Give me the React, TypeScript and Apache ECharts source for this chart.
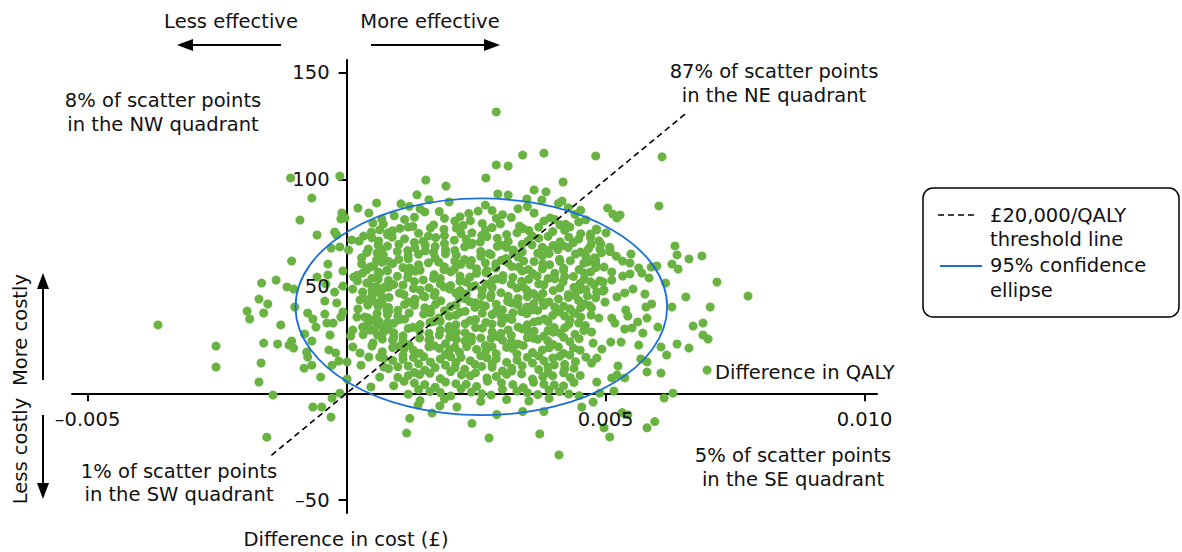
import React, { useEffect, useRef } from "react";
import * as echarts from "echarts";

// Difference in QALY (x) and difference in cost £ (y) for bootstrap replicates
const leftPoints: number[][] = [
  [-0.00108,100.8],[-0.00013,101.7],[-0.00067,91.4],[-0.0009,81.1],[-0.00009,84.4],[0.00022,86.7],[0.00058,89.1],[0.00043,84.4],
  [-0.00057,74.1],[-0.00023,75.5],[-0.00011,81.6],[-0.00003,82.1],[-0.00019,74.1],[0.0001,71.8],[0.00024,71.3],[0.00033,73.6],
  [-0.00106,61.9],[-0.00036,60.5],[-0.0003,68.0],[-0.00013,68.5],[0.00004,67.1],[-0.00007,57.3],[-0.00036,55.4],[-0.00164,51.6],
  [-0.00136,53.0],[-0.00115,49.8],[-0.00102,48.8],[-0.00057,54.4],[-0.0004,51.2],[-0.00023,47.4],[-0.00007,50.2],[0.00012,48.8],
  [-0.00169,44.1],[-0.00152,41.8],[-0.00192,38.5],[-0.00187,34.8],[-0.0016,37.6],[-0.001,40.4],[-0.00075,37.6],[-0.00065,34.8],
  [-0.00042,37.1],[-0.00042,43.2],[-0.00019,42.3],[-0.00007,38.1],[-0.00011,35.7],[-0.00026,32.9],[-0.00038,32.9],[-0.00364,32.0],
  [-0.00127,32.0],[-0.00059,31.0],[-0.00081,27.8],[-0.00032,27.3],[-0.00067,24.5],[-0.00106,24.5],[-0.00111,22.6],[-0.00102,21.2],
  [-0.0016,23.5],[-0.00133,23.1],[-0.00252,22.1],[-0.00252,12.3],[-0.00165,14.2],[-0.00169,5.3],[-0.00142,-0.8],[-0.00077,19.3],
  [-0.00075,17.0],[-0.00067,13.2],[-0.00082,11.8],[-0.0005,7.6],[-0.00034,20.3],[-0.00021,18.9],[-0.00028,13.2],[-0.00015,15.1],
  [0.00001,14.7],[0.00001,6.7],[-0.00013,0.1],[-0.00028,-2.2],[-0.00065,-6.4],[-0.00048,-6.4],[-0.0003,-11.1],[-0.00154,-20.5],
  [0.00008,26.8],[0.00012,21.7],[0.00026,18.9],[0.00047,3.0],[0.00028,13.2],[0.00043,17.0],[0.00049,22.1],[0.00064,17.0],
  [0.00072,12.3],[0.00064,7.6],[0.00014,54.4],[0.00031,56.3],[0.00045,59.1],[0.00058,62.4],[0.00064,56.3],[0.00078,57.7],
  [0.00051,49.8],[0.00058,47.4],[0.00074,49.8],[0.00026,43.7],[0.00045,43.7],[0.00058,42.3],[0.0002,35.7],[0.00035,35.7],
  [0.00051,34.3],[0.00031,31.0],[0.00045,29.6],[0.00078,39.0],[0.00074,31.0],[0.0006,27.3],[0.00012,29.6],[0.00068,67.1],
  [0.0008,75.1],[0.00064,76.5],[0.00051,79.7],
];

const topBottomPoints: number[][] = [
  [0.00289,131.7],[0.0034,111.5],[0.00381,112.4],[0.00289,106.9],[0.00312,106.4],[0.00269,100.8],[0.00153,99.8],[0.00192,97.0],
  [0.00418,98.9],[0.00136,92.9],[0.00159,90.6],[0.00105,88.7],[0.00362,95.2],[0.00385,94.3],[0.00292,93.3],[0.00312,92.8],
  [0.00348,91.0],[0.00416,90.0],[0.00377,90.5],
  [0.00116,-18.6],[0.00275,-20.9],[0.00373,-19.0],[0.0041,-28.8],[0.00242,-14.1],[0.0029,-9.9],[0.0034,-8.5],[0.00381,-8.5],
  [0.00165,-9.2],[0.00122,-11.7],[0.00454,-6.4],[0.0018,-5.9],[0.00213,-6.4],[0.00138,-5.5],
];

const rightPoints: number[][] = [
  [0.00481,111.1],[0.00609,110.7],[0.00603,87.7],[0.00504,86.7],[0.00514,83.9],[0.00528,83.5],[0.00522,82.1],[0.00483,76.5],
  [0.00501,75.1],[0.00634,69.0],[0.00638,64.8],[0.00686,64.3],[0.00661,62.9],[0.00628,60.5],[0.0064,58.2],[0.00549,65.2],
  [0.00508,66.6],[0.00489,67.6],[0.00481,62.4],[0.00533,61.9],[0.00547,61.0],[0.00564,58.7],[0.00588,59.1],[0.00599,59.6],
  [0.00512,56.8],[0.00512,53.0],[0.00533,54.9],[0.00547,55.9],[0.0057,56.3],[0.00584,54.0],[0.00715,52.1],[0.00775,45.5],
  [0.00616,51.6],[0.00655,45.1],[0.00702,40.4],[0.00628,40.4],[0.00576,46.5],[0.00553,48.8],[0.00537,47.0],[0.00522,45.1],
  [0.00497,48.4],[0.00495,52.1],[0.00483,47.4],[0.00499,42.7],[0.00539,39.0],[0.00543,36.2],[0.00578,40.4],[0.00589,41.8],
  [0.0058,35.2],[0.00562,33.4],[0.00512,35.2],[0.00518,32.9],[0.00487,35.2],[0.00473,39.9],[0.00669,31.5],[0.00688,32.9],
  [0.00688,27.3],[0.00698,25.4],[0.00601,31.0],[0.00572,28.2],[0.00551,30.6],[0.00537,30.1],[0.00473,28.7],[0.00638,23.1],
  [0.00661,21.2],[0.00618,17.9],[0.00607,21.7],[0.00564,22.6],[0.0053,24.0],[0.0051,24.0],[0.00493,20.7],[0.00476,23.5],
  [0.00568,16.1],[0.0058,14.7],[0.0058,10.0],[0.00607,9.5],[0.00524,12.8],[0.00483,16.5],[0.00473,14.2],[0.00696,10.9],
  [0.00522,8.6],[0.00537,7.2],[0.00512,7.2],[0.00483,5.3],[0.00489,0.1],[0.00516,1.1],[0.00476,-4.1],[0.00613,-2.2],
  [0.0063,0.1],[0.00532,-9.0],[0.00543,-10.0],[0.00497,-16.1],[0.00508,-20.4],[0.0058,-16.1],[0.00595,-13.2],
];

const corePointsA: number[][] = [
  [0.00121,87.5],[0.00198,89.6],[0.00268,88.1],[0.00331,86.4],[0.00409,88.9],[0.00452,85.7],[0.00236,84.2],
  [0.00092,83.1],[0.00151,84.9],[0.00219,82.7],[0.00254,85.3],[0.00301,83.6],[0.00362,84.4],[0.00393,82.1],[0.00441,83.8],
  [0.00071,79.2],[0.00112,81.4],[0.00168,78.8],[0.00209,80.6],[0.00262,79.5],[0.00289,81.9],[0.00334,78.3],[0.00381,80.7],[0.00423,79.1],[0.00462,81.2],
  [0.00048,75.4],[0.00103,77.2],[0.00139,74.9],[0.00188,76.8],[0.00242,75.1],[0.00281,77.6],[0.00309,74.3],[0.00352,76.2],[0.00398,75.7],[0.00431,77.9],[0.00471,74.6],
  [0.00062,71.3],[0.00088,73.1],[0.00131,70.6],[0.00172,72.9],[0.00208,71.7],[0.00243,70.2],[0.00271,73.4],[0.00312,71.1],[0.00339,69.8],[0.00371,72.6],[0.00412,70.9],[0.00448,72.2],[0.00487,71.4],
  [0.00042,67.5],[0.00079,68.9],[0.00118,66.8],[0.00152,69.3],[0.00191,67.2],[0.00228,68.6],[0.00259,66.4],[0.00291,68.8],[0.00322,67.1],[0.00358,69.5],[0.00389,66.9],[0.00428,68.2],[0.00467,67.6],[0.00508,68.4],
  [0.00029,63.4],[0.00071,64.8],[0.00101,62.7],[0.00139,65.1],[0.00171,63.3],[0.00212,64.6],[0.00241,62.2],[0.00279,64.9],[0.00308,63.1],[0.00342,61.9],[0.00378,64.3],[0.00411,62.8],[0.00442,65.2],[0.00479,63.5],[0.00521,64.1],
  [0.00052,59.6],[0.00089,60.8],[0.00122,58.7],[0.00158,61.1],[0.00189,59.2],[0.00221,60.4],[0.00251,58.3],[0.00288,60.7],[0.00319,59.4],[0.00351,57.9],[0.00392,60.2],[0.00419,58.6],[0.00458,60.9],[0.00497,59.1],
  [0.00021,55.3],[0.00061,56.7],[0.00098,54.8],[0.00132,57.2],[0.00169,55.6],[0.00201,56.9],[0.00238,54.4],[0.00269,56.5],[0.00302,55.1],[0.00339,57.3],[0.00368,54.9],[0.00402,56.2],[0.00438,54.7],[0.00471,56.8],
  [0.00039,51.6],[0.00081,52.8],[0.00109,50.7],[0.00148,53.1],[0.00181,51.2],[0.00219,52.5],[0.00248,50.4],[0.00282,52.9],[0.00318,51.1],[0.00352,53.4],[0.00381,50.8],[0.00418,52.2],[0.00451,51.5],[0.00489,52.7],
  [0.00031,47.4],[0.00068,48.6],[0.00102,46.9],[0.00129,49.1],[0.00171,47.2],[0.00199,48.8],[0.00231,46.5],[0.00262,48.3],[0.00298,47.1],[0.00329,49.2],[0.00361,46.7],[0.00399,48.1],[0.00428,46.3],[0.00462,48.5],
  [0.00049,43.6],[0.00082,44.9],[0.00119,42.8],[0.00151,45.2],[0.00182,43.3],[0.00218,44.6],[0.00249,42.4],[0.00278,44.8],[0.00311,43.1],[0.00349,45.3],[0.00379,42.7],[0.00409,44.2],[0.00448,43.5],[0.00481,44.7],
  [0.00022,39.5],[0.00061,40.7],[0.00099,38.9],[0.00131,41.2],[0.00162,39.3],[0.00201,40.6],[0.00229,38.4],[0.00268,40.9],[0.00301,39.1],[0.00331,41.4],[0.00369,38.8],[0.00402,40.3],[0.00431,39.6],[0.00469,41.1],
  [0.00041,35.4],[0.00079,36.8],[0.00112,34.7],[0.00149,37.1],[0.00178,35.3],[0.00211,36.6],[0.00249,34.5],[0.00281,36.9],[0.00309,35.2],[0.00348,37.3],[0.00382,34.8],[0.00421,36.2],[0.00452,35.7],
  [0.00059,31.6],[0.00091,32.8],[0.00128,30.9],[0.00161,33.2],[0.00198,31.3],[0.00229,32.6],[0.00262,30.5],[0.00299,32.9],[0.00331,31.1],[0.00362,33.4],[0.00401,30.8],[0.00429,32.3],[0.00461,31.7],
  [0.00032,27.5],[0.00071,28.7],[0.00109,26.9],[0.00141,29.2],[0.00179,27.3],[0.00212,28.6],[0.00241,26.4],[0.00281,28.8],[0.00318,27.1],[0.00349,29.3],[0.00381,26.8],[0.00412,28.2],[0.00441,27.6],
  [0.00051,23.6],[0.00089,24.8],[0.00121,22.7],[0.00159,25.1],[0.00191,23.2],[0.00229,24.5],[0.00268,22.4],[0.00301,24.9],[0.00331,23.1],[0.00369,25.3],[0.00399,22.8],[0.00431,24.2],
  [0.00069,19.5],[0.00111,20.7],[0.00141,18.8],[0.00179,21.1],[0.00218,19.2],[0.00251,20.6],[0.00289,18.5],[0.00321,20.9],[0.00359,19.1],[0.00391,21.3],[0.00419,18.7],[0.00451,20.2],
  [0.00089,15.4],[0.00129,16.8],[0.00162,14.7],[0.00201,17.1],[0.00239,15.3],[0.00271,16.6],[0.00309,14.5],[0.00349,16.9],[0.00381,15.2],[0.00411,17.3],[0.00442,14.8],
  [0.00081,11.6],[0.00119,12.8],[0.00151,10.9],[0.00191,13.2],[0.00228,11.3],[0.00261,12.6],[0.00301,10.5],[0.00339,12.9],[0.00371,11.1],[0.00401,13.3],[0.00439,11.8],
  [0.00099,7.5],[0.00141,8.8],[0.00181,6.9],[0.00222,8.6],[0.00271,7.2],[0.00309,8.9],[0.00359,6.7],[0.00398,8.2],[0.00432,7.4],
  [0.00091,3.6],[0.00131,4.8],[0.00171,2.9],[0.00211,4.5],[0.00251,3.2],[0.00299,4.9],[0.00341,2.7],[0.00381,4.3],[0.00419,3.5],
  [0.00119,-0.4],[0.00161,0.9],[0.00201,-1.2],[0.00241,0.6],[0.00279,-0.8],[0.00329,1.1],[0.00369,-0.6],[0.00411,0.8],[0.00449,-1.1],
  [0.00142,-3.4],[0.00189,-2.6],[0.00259,-3.8],[0.00309,-2.9],[0.00352,-3.6],[0.00391,-2.4],
];

const corePointsB: number[][] = [
  [0.00128,78.1],[0.00162,77.4],[0.00225,78.6],[0.00297,79.3],[0.00371,77.8],[0.00412,78.9],
  [0.00079,74.2],[0.00158,73.6],[0.00221,74.8],[0.00261,73.9],[0.00329,75.2],[0.00389,73.5],[0.00452,74.7],
  [0.00101,69.8],[0.00148,71.2],[0.00189,70.1],[0.00258,70.8],[0.00298,69.4],[0.00351,71.5],[0.00399,69.2],[0.00438,70.6],[0.00472,69.7],
  [0.00059,65.7],[0.00098,66.4],[0.00168,65.9],[0.00209,66.9],[0.00275,65.4],[0.00339,66.2],[0.00369,65.6],[0.00408,67.3],[0.00452,66.1],[0.00492,65.8],
  [0.00081,61.8],[0.00119,62.9],[0.00178,61.4],[0.00228,62.6],[0.00268,61.1],[0.00299,62.3],[0.00331,63.8],[0.00362,61.7],[0.00432,62.1],[0.00466,61.5],
  [0.00039,57.8],[0.00109,58.9],[0.00142,57.6],[0.00208,58.1],[0.00271,57.4],[0.00332,59.1],[0.00378,58.3],[0.00449,57.9],[0.00481,58.8],
  [0.00049,53.9],[0.00118,54.2],[0.00181,53.7],[0.00219,54.9],[0.00289,53.6],[0.00321,54.3],[0.00389,53.8],[0.00421,54.6],[0.00459,53.5],
  [0.00059,49.7],[0.00091,50.9],[0.00159,49.4],[0.00201,50.5],[0.00241,49.8],[0.00269,51.1],[0.00341,49.9],[0.00371,51.2],[0.00439,49.6],[0.00478,50.8],
  [0.00049,45.8],[0.00111,46.2],[0.00148,45.6],[0.00211,46.9],[0.00279,46.1],[0.00312,45.4],[0.00379,46.8],[0.00441,45.9],
  [0.00069,42.1],[0.00131,42.6],[0.00172,41.7],[0.00238,42.9],[0.00259,41.6],[0.00319,42.3],[0.00361,41.9],[0.00391,42.8],[0.00459,41.8],
  [0.00081,38.2],[0.00121,37.6],[0.00189,38.7],[0.00219,37.9],[0.00289,38.4],[0.00321,37.7],[0.00359,39.1],[0.00411,38.1],[0.00441,37.5],
  [0.00062,33.8],[0.00101,34.4],[0.00168,33.6],[0.00239,34.1],[0.00269,33.2],[0.00319,34.6],[0.00371,33.9],[0.00431,34.2],
  [0.00081,29.9],[0.00119,30.4],[0.00181,29.6],[0.00249,30.8],[0.00312,29.7],[0.00339,30.2],[0.00389,29.4],[0.00421,30.6],
  [0.00091,26.1],[0.00161,25.7],[0.00199,26.4],[0.00259,25.9],[0.00292,26.6],[0.00361,25.8],[0.00419,26.2],
  [0.00101,21.9],[0.00169,22.3],[0.00209,21.6],[0.00281,21.8],[0.00341,22.4],[0.00409,21.7],
  [0.00109,17.8],[0.00191,18.2],[0.00259,17.6],[0.00329,18.4],[0.00371,17.5],[0.00431,17.9],
  [0.00139,13.9],[0.00211,14.4],[0.00281,13.7],[0.00359,14.2],[0.00421,13.6],
  [0.00131,9.8],[0.00201,10.2],[0.00249,9.6],[0.00319,10.4],[0.00389,9.7],
];

const corePointsC: number[][] = [
  [0.00142,86.3],[0.00179,85.1],[0.00281,85.6],[0.00349,87.4],[0.00428,86.8],
  [0.00068,81.6],[0.00131,82.4],[0.00189,81.9],[0.00239,80.8],[0.00318,82.3],[0.00402,81.4],[0.00448,80.2],
  [0.00089,76.1],[0.00119,77.8],[0.00212,77.3],[0.00268,76.4],[0.00341,77.1],[0.00421,76.3],[0.00482,76.9],
  [0.00049,72.8],[0.00112,72.3],[0.00189,73.8],[0.00231,72.1],[0.00291,72.6],[0.00358,73.7],[0.00429,73.1],[0.00471,72.9],
  [0.00061,69.4],[0.00132,68.1],[0.00171,68.7],[0.00241,69.6],[0.00309,68.3],[0.00378,68.4],[0.00418,69.1],[0.00491,69.9],
  [0.00039,65.9],[0.00119,64.4],[0.00152,66.7],[0.00191,65.3],[0.00259,64.1],[0.00322,65.8],[0.00391,65.4],[0.00462,64.2],[0.00509,66.3],
  [0.00029,60.6],[0.00068,61.4],[0.00139,60.2],[0.00209,61.9],[0.00239,60.1],[0.00311,61.2],[0.00379,60.6],[0.00412,61.8],[0.00481,60.4],
  [0.00079,57.3],[0.00119,56.4],[0.00188,57.8],[0.00251,56.2],[0.00288,58.6],[0.00359,56.1],[0.00419,57.6],[0.00459,56.3],
  [0.00021,52.6],[0.00061,53.4],[0.00131,52.3],[0.00168,53.8],[0.00231,52.1],[0.00301,53.1],[0.00338,52.4],[0.00402,53.6],[0.00471,52.2],
  [0.00049,48.2],[0.00081,49.6],[0.00142,48.4],[0.00188,49.8],[0.00219,48.1],[0.00281,49.5],[0.00348,48.3],[0.00412,49.4],[0.00451,48.6],[0.00495,47.9],
  [0.00032,44.6],[0.00068,45.3],[0.00132,44.1],[0.00169,45.8],[0.00229,44.3],[0.00261,45.7],[0.00331,44.4],[0.00368,45.1],[0.00428,44.9],[0.00465,45.6],
  [0.00041,41.3],[0.00081,40.2],[0.00112,41.6],[0.00151,40.1],[0.00211,41.4],[0.00248,40.2],[0.00289,41.7],[0.00348,40.4],[0.00381,41.2],[0.00419,40.8],[0.00452,40.1],
  [0.00059,37.4],[0.00099,36.3],[0.00162,37.7],[0.00198,36.1],[0.00262,37.5],[0.00298,36.2],[0.00338,38.2],[0.00398,36.5],[0.00438,37.8],[0.00472,36.6],
  [0.00041,32.4],[0.00079,33.1],[0.00142,32.2],[0.00181,33.7],[0.00211,32.1],[0.00281,32.4],[0.00349,32.1],[0.00389,33.6],[0.00448,32.9],
  [0.00052,29.6],[0.00091,28.4],[0.00159,28.1],[0.00198,29.8],[0.00229,28.3],[0.00298,28.1],[0.00362,29.1],[0.00399,28.6],[0.00458,29.4],
  [0.00069,25.4],[0.00109,24.6],[0.00141,25.9],[0.00212,25.2],[0.00241,24.4],[0.00279,25.7],[0.00318,24.2],[0.00349,26.1],[0.00388,24.7],[0.00449,25.6],
  [0.00089,21.4],[0.00129,20.2],[0.00159,21.8],[0.00199,20.4],[0.00232,21.9],[0.00269,20.1],[0.00309,21.5],[0.00378,20.3],[0.00438,21.2],
  [0.00072,16.4],[0.00109,15.9],[0.00149,17.2],[0.00181,16.1],[0.00221,16.8],[0.00289,16.2],[0.00329,15.6],[0.00398,16.5],[0.00462,16.9],
  [0.00099,12.4],[0.00171,12.1],[0.00209,11.9],[0.00248,13.6],[0.00281,12.2],[0.00319,11.8],[0.00389,12.3],[0.00421,11.4],
  [0.00119,8.3],[0.00161,9.4],[0.00239,8.2],[0.00289,7.9],[0.00338,9.1],[0.00379,7.8],[0.00419,9.6],[0.00451,8.4],
  [0.00111,5.6],[0.00151,4.1],[0.00191,5.3],[0.00231,4.2],[0.00272,5.7],[0.00321,4.1],[0.00361,5.2],[0.00401,3.9],[0.00439,5.1],
  [0.00139,1.8],[0.00181,0.4],[0.00221,2.1],[0.00261,-0.2],[0.00301,1.9],[0.00349,0.3],[0.00391,1.6],[0.00429,-0.3],
];

// £20,000/QALY threshold line end points [QALY, £]
const thresholdLine: number[][] = [[-0.00145, -29], [0.00656, 131.2]];
// 95% confidence ellipse: [centre QALY, centre £, half-width QALY, half-height £]
const ellipse95: number[] = [0.002602, 40.5, 0.003587, 50.7];

const xTicks = [-0.005, 0.005, 0.01];
const yTicks = [-50, 50, 100, 150];

const quadrantLabels = {
  nw: ["8% of scatter points", "in the NW quadrant"],
  ne: ["87% of scatter points", "in the NE quadrant"],
  sw: ["1% of scatter points", "in the SW quadrant"],
  se: ["5% of scatter points", "in the SE quadrant"],
};
const legendLabels = {
  threshold: ["\u00a320,000/QALY", "threshold line"],
  ellipse: ["95% confidence", "ellipse"],
};

const FONT = '"DejaVu Sans", "Noto Sans", sans-serif';
const FS = 19.5;
const TXT = "#111111";
const GREEN = "#69b342";
const BLUE = "#1a6fd8";

function txt(text: string, x: number, y: number, align = "center", extra: any = {}) {
  return {
    type: "text",
    x,
    y,
    z: 100,
    ...extra,
    style: {
      text,
      fill: TXT,
      font: `${FS}px ${FONT}`,
      textAlign: align,
      textVerticalAlign: "middle",
    },
  };
}

function lines(texts: string[], x: number, yFirst: number, gap: number, align = "center") {
  return texts.map((t, i) => txt(t, x, yFirst + i * gap, align));
}

const fmtX = (v: number) => (v < 0 ? "\u2013" + (-v).toFixed(3) : v.toFixed(3));
const fmtY = (v: number) => (v < 0 ? "\u2013" + -v : String(v));

export default function App() {
  const ref = useRef<HTMLDivElement>(null);
  useEffect(() => {
    if (!ref.current) return;
    const chart = echarts.init(ref.current, undefined, { renderer: "svg" });
    const scatterData = [...corePointsA, ...corePointsB, ...corePointsC, ...leftPoints, ...topBottomPoints, ...rightPoints];
    const option: any = {
      animation: false,
      backgroundColor: "#ffffff",
      textStyle: { fontFamily: FONT },
      grid: { left: 72, right: 305, top: 60, bottom: 39, containLabel: false, outerBoundsMode: "none" },
      xAxis: {
        type: "value",
        min: -0.0053,
        max: 0.01024,
        splitLine: { show: false },
        axisLine: { onZero: true, lineStyle: { color: "#000", width: 2 } },
        axisTick: { show: true, customValues: xTicks, length: 8, lineStyle: { color: "#000", width: 2 } },
        axisLabel: { show: false },
      },
      yAxis: {
        type: "value",
        min: -56,
        max: 156,
        splitLine: { show: false },
        axisLine: { onZero: true, lineStyle: { color: "#000", width: 2 } },
        axisTick: { show: true, customValues: yTicks, length: 8, lineStyle: { color: "#000", width: 2 } },
        axisLabel: { show: false },
      },
      series: [
        {
          type: "scatter",
          data: scatterData,
          symbolSize: 9,
          itemStyle: { color: GREEN, opacity: 1 },
          z: 2,
          silent: true,
        },
        {
          type: "line",
          data: thresholdLine,
          symbol: "none",
          lineStyle: { color: "#000", width: 1.6, type: [6, 4] },
          z: 4,
          silent: true,
        },
        {
          type: "custom",
          data: [ellipse95],
          encode: { x: 0, y: 1 },
          clip: false,
          z: 5,
          silent: true,
          renderItem: (params: any, api: any) => {
            const c = api.coord([api.value(0), api.value(1)]);
            const s = api.size([api.value(2), api.value(3)]);
            return {
              type: "ellipse",
              shape: { cx: c[0], cy: c[1], rx: s[0], ry: s[1] },
              style: { fill: "none", stroke: BLUE, lineWidth: 1.8 },
            };
          },
        },
      ],
    };
    chart.setOption(option);

    // tick labels placed through the chart's own scales
    const tickLabels: any[] = [];
    xTicks.forEach((v) => {
      const p = chart.convertToPixel({ xAxisIndex: 0, yAxisIndex: 0 }, [v, 0]) as number[];
      tickLabels.push(txt(fmtX(v), p[0], p[1] + 26));
    });
    yTicks.forEach((v) => {
      const p = chart.convertToPixel({ xAxisIndex: 0, yAxisIndex: 0 }, [0, v]) as number[];
      tickLabels.push(txt(fmtY(v), p[0] - 17, p[1], "right"));
    });

    chart.setOption({
      graphic: [
        ...tickLabels,
        txt("Less effective", 231, 21),
        txt("More effective", 430, 21),
        { type: "line", shape: { x1: 281, y1: 45, x2: 190, y2: 45 }, style: { stroke: "#000", lineWidth: 2 } },
        { type: "polygon", shape: { points: [[177, 45], [193, 39], [193, 51]] }, style: { fill: "#000" } },
        { type: "line", shape: { x1: 371, y1: 45, x2: 486, y2: 45 }, style: { stroke: "#000", lineWidth: 2 } },
        { type: "polygon", shape: { points: [[500, 45], [484, 39], [484, 51]] }, style: { fill: "#000" } },
        ...lines(quadrantLabels.nw, 163, 100.5, 23.5),
        ...lines(quadrantLabels.ne, 774, 71.5, 23.5),
        ...lines(quadrantLabels.sw, 179, 471, 23.5),
        ...lines(quadrantLabels.se, 793, 455.5, 23.5),
        txt("Difference in QALY", 715, 372, "left"),
        txt("Difference in cost (\u00a3)", 346, 539),
        txt("More costly", 20, 330, "center", { rotation: Math.PI / 2 }),
        txt("Less costly", 20, 451, "center", { rotation: Math.PI / 2 }),
        { type: "line", shape: { x1: 43, y1: 380, x2: 43, y2: 286 }, style: { stroke: "#000", lineWidth: 2 } },
        { type: "polygon", shape: { points: [[43, 273], [37, 289], [49, 289]] }, style: { fill: "#000" } },
        { type: "line", shape: { x1: 43, y1: 415, x2: 43, y2: 486 }, style: { stroke: "#000", lineWidth: 2 } },
        { type: "polygon", shape: { points: [[43, 499], [37, 483], [49, 483]] }, style: { fill: "#000" } },
        {
          type: "rect",
          shape: { x: 923, y: 188, width: 256, height: 129, r: 10 },
          style: { fill: "#fff", stroke: "#000", lineWidth: 1.5 },
        },
        { type: "line", shape: { x1: 938, y1: 215, x2: 978, y2: 215 }, style: { stroke: "#000", lineWidth: 1.6, lineDash: [6, 4] } },
        { type: "line", shape: { x1: 940, y1: 266, x2: 982, y2: 266 }, style: { stroke: BLUE, lineWidth: 2 } },
        ...lines(legendLabels.threshold, 990, 215, 24.5, "left"),
        ...lines(legendLabels.ellipse, 990, 265.5, 24.5, "left"),
      ],
    });
    return () => chart.dispose();
  }, []);
  return <div ref={ref} style={{ position: "fixed", left: 0, top: 0, width: 1182, height: 552 }} />;
}
